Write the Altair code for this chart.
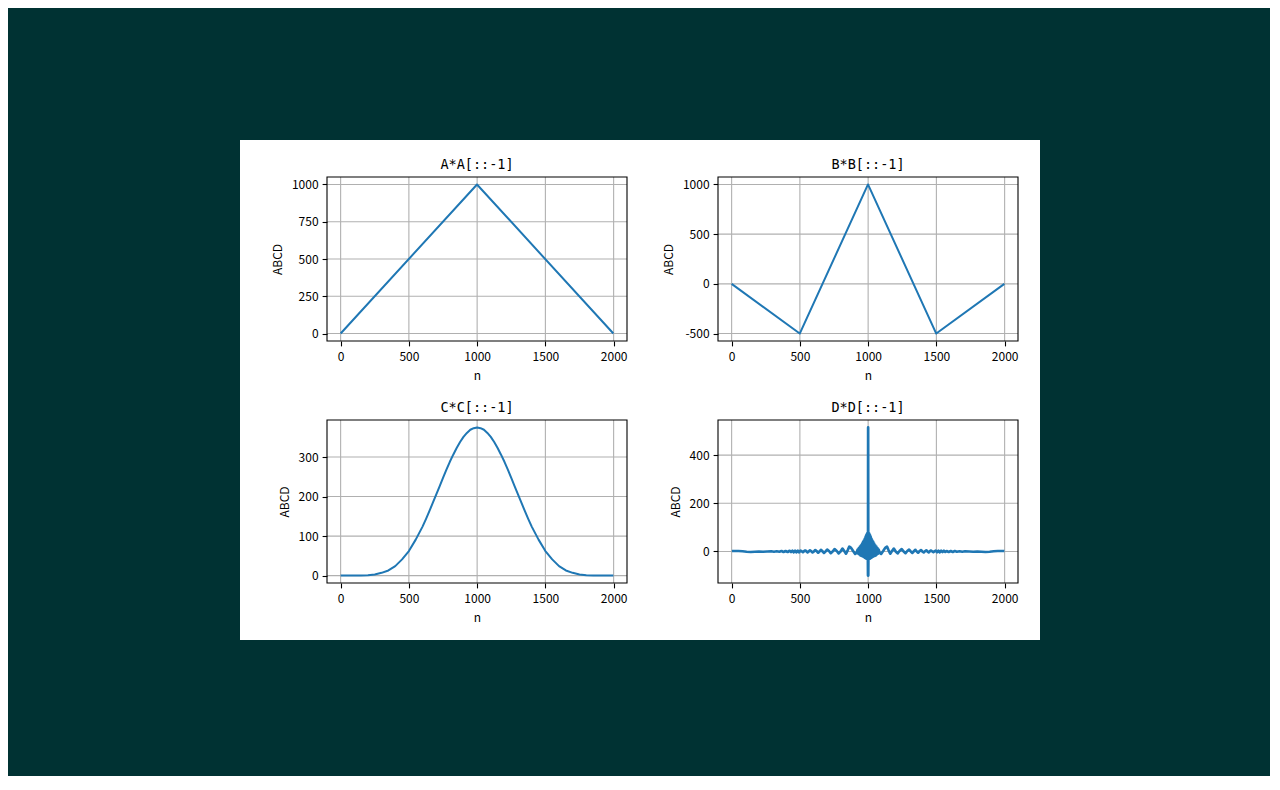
import altair as alt
import pandas as pd

# ---------------- data ----------------
A_n = [0, 999, 1998]
A_v = [0, 1000, 0]

B_n = [0, 499, 999, 1499, 1998]
B_v = [0, -500, 1000, -500, 0]

C_n = [0, 50, 100, 150, 200, 250, 300, 350, 400, 450, 500, 550, 600, 625, 650, 675, 700, 725, 750, 775,
       800, 825, 850, 875, 900, 925, 950, 975, 1000, 1025, 1050, 1075, 1100, 1125, 1150, 1175, 1200,
       1225, 1250, 1275, 1300, 1325, 1350, 1375, 1400, 1450, 1500, 1550, 1600, 1650, 1700, 1750, 1800,
       1850, 1900, 1950, 1998]
C_v = [0, 0, 0, 0.3, 1, 3, 7, 13, 24, 41, 62, 91, 124, 143, 163, 184, 205, 226, 247, 268,
       288, 306, 323, 338, 351, 361, 369, 373, 375, 373, 369, 361, 351, 338, 323, 306, 288,
       268, 247, 226, 205, 184, 163, 143, 124, 91, 62, 41, 24, 13, 7, 3, 1,
       0.3, 0, 0, 0]

D_n = [2, 20, 50, 80, 110, 140, 170, 200, 230, 260, 290, 310, 330, 350, 365, 380, 395, 410, 425, 435,
       445, 455, 465, 475, 485, 495, 505, 513, 522, 530, 539, 548, 556, 565, 574, 584, 593, 603, 613, 624,
       634, 644, 654, 665, 676, 688, 700, 713, 726, 740, 754, 770, 784, 798, 812, 825, 838, 850, 862, 875,
       890, 905, 915, 923, 928, 932, 936, 940, 944, 948, 952, 956, 960, 963, 966, 969, 972, 975, 978, 981,
       983, 985, 987, 989, 991, 993, 995, 997, 999, 1000,
       1001, 1003, 1005, 1007, 1009, 1011, 1013, 1015, 1017, 1019, 1022, 1025, 1028, 1031, 1034, 1037,
       1040, 1044, 1048, 1052, 1056, 1060, 1064, 1068, 1072, 1077, 1085, 1095, 1110, 1125, 1138, 1150,
       1162, 1175, 1188, 1202, 1216, 1230, 1246, 1260, 1274, 1287, 1300, 1312, 1324, 1335, 1346, 1356,
       1366, 1376, 1387, 1397, 1407, 1416, 1426, 1435, 1444, 1452, 1461, 1470, 1478, 1487, 1495, 1505,
       1515, 1525, 1535, 1545, 1555, 1565, 1575, 1590, 1605, 1620, 1635, 1650, 1670, 1690, 1710, 1740,
       1770, 1800, 1830, 1860, 1890, 1920, 1950, 1980, 1998]
D_v = [2, 2, 2, 1, -1, -2, -1, 0, -1, 0, 1, -1, 1, -1, 2, -2, 2, -2, 3, -2,
       3, -3, 3, -3, 3, -3, 4, 1, -3, 1, 4, 1, -4, 0, 5, 1, -4, 0, 6, 1,
       -5, 0, 7, 1, -6, 0, 8, 2, -7, 0, 10, 2, -8, 0, 12, 2, -9, 5, 20, 15,
       2, -10, -6, 8, -9, 14, -12, 20, -16, 26, -18, 33, -20, 40, -22, 45, -24, 52, -27, 60,
       -26, 66, -30, 70, -28, 75, -30, 72, -100, 515,
       -100, 72, -30, 75, -28, 70, -30, 66, -26, 60, -27, 52, -24, 45, -22, 40,
       -20, 33, -18, 26, -16, 20, -12, 14, -9, 8, -6, -10, 2, 15, 20, 5,
       -9, 2, 12, 0, -8, 2, 10, 0, -7, 2, 8, 0, -6, 1, 7, 0,
       -5, 1, 6, 0, -4, 1, 5, 0, -4, 1, 4, 0, -3, 1, 4, -3,
       3, -3, 3, -2, 3, -2, 2, -2, 2, -2, 2, -1, 1, -1, 1, 0,
       -1, 0, -1, -2, -1, 1, 2, 2, 2]

titles = ["A*A[::-1]", "B*B[::-1]", "C*C[::-1]", "D*D[::-1]"]
x_ticks = [0, 500, 1000, 1500, 2000]
y_ticks_list = [[0, 250, 500, 750, 1000], [-500, 0, 500, 1000], [0, 100, 200, 300], [0, 200, 400]]
x_domain = [-99.9, 2097.9]
y_domains = [[-50, 1050], [-575, 1075], [-18.75, 393.75], [-130.75, 545.75]]
x_label = "n"
y_label = "ABCD"

# ---------------- styling / layout ----------------
FONT = "Noto Sans CJK SC"
TFONT = "DejaVu Sans Mono"
LINE = "#1f77b4"
GRID = "#b0b0b0"
CELL_W, CELL_H = 400, 250
ranges = [([87, 387], [201, 37]), ([78, 378], [201, 37]), ([87, 387], [193, 30]), ([78, 378], [193, 30])]
widths = [2.0, 2.0, 2.0, 2.7]


def panel(i, ns, vs):
    xr, yr = ranges[i]
    ydom = y_domains[i]
    xs = alt.Scale(domain=x_domain, range=xr, nice=False, zero=False)
    ys = alt.Scale(domain=ydom, range=yr, nice=False, zero=False)
    xaxis = alt.Axis(values=x_ticks, offset=-(CELL_H - yr[0]), grid=False, domain=False,
                     title=x_label, labelFont=FONT, labelFontSize=12, labelColor="black",
                     labelPadding=6, labelFlush=False, labelOverlap=False, labelExpr="'' + datum.value",
                     tickColor="black", tickSize=4.9, tickWidth=1.1,
                     titleFont=FONT, titleFontSize=12, titleFontWeight="normal", titleColor="black",
                     titlePadding=8)
    yaxis = alt.Axis(values=y_ticks_list[i], offset=-xr[0], grid=False, domain=False,
                     title=y_label, labelFont=FONT, labelFontSize=12, labelColor="black",
                     labelPadding=4, labelFlush=False, labelOverlap=False, labelExpr="'' + datum.value",
                     tickColor="black", tickSize=4.9, tickWidth=1.1,
                     titleFont=FONT, titleFontSize=12, titleFontWeight="normal", titleColor="black",
                     titlePadding=7)

    line_df = pd.DataFrame({"n": ns, "v": vs})
    xg = pd.DataFrame({"n": x_ticks, "v": [ydom[0]] * len(x_ticks), "v2": [ydom[1]] * len(x_ticks)})
    yg = pd.DataFrame({"v": y_ticks_list[i], "n": [x_domain[0]] * len(y_ticks_list[i]),
                       "n2": [x_domain[1]] * len(y_ticks_list[i])})
    frame = pd.DataFrame({"n": [x_domain[0]], "n2": [x_domain[1]], "v": [ydom[0]], "v2": [ydom[1]]})
    ttl = pd.DataFrame({"n": [(x_domain[0] + x_domain[1]) / 2], "v": [ydom[1]], "t": [titles[i]]})

    base_line = alt.Chart(line_df).mark_line(color=LINE, strokeWidth=widths[i], strokeJoin="round").encode(
        x=alt.X("n:Q", scale=xs, axis=xaxis),
        y=alt.Y("v:Q", scale=ys, axis=yaxis),
        order="n:Q",
    )
    gx = alt.Chart(xg).mark_rule(color=GRID, strokeWidth=1.1).encode(
        x=alt.X("n:Q"), y=alt.Y("v:Q"), y2="v2:Q")
    gy = alt.Chart(yg).mark_rule(color=GRID, strokeWidth=1.1).encode(
        y=alt.Y("v:Q"), x=alt.X("n:Q"), x2="n2:Q")
    fr = alt.Chart(frame).mark_rect(fill="transparent", stroke="black", strokeWidth=1.1).encode(
        x=alt.X("n:Q"), x2="n2:Q", y=alt.Y("v:Q"), y2="v2:Q")
    tt = alt.Chart(ttl).mark_text(font=TFONT, fontSize=13.5, color="black", align="center",
                                  baseline="alphabetic", dy=-8).encode(
        x=alt.X("n:Q"), y=alt.Y("v:Q"), text="t:N")
    return alt.layer(gx, gy, base_line, fr, tt).properties(width=CELL_W, height=CELL_H)


p1 = panel(0, A_n, A_v)
p2 = panel(1, B_n, B_v)
p3 = panel(2, C_n, C_v)
p4 = panel(3, D_n, D_v)

chart = alt.vconcat(
    alt.hconcat(p1, p2, spacing=0),
    alt.hconcat(p3, p4, spacing=0),
    spacing=0,
).properties(
    background="#003233",
    padding={"left": 232, "top": 132, "right": 230, "bottom": 136},
).configure_view(fill="white", stroke="white", strokeWidth=0)

chart.save("out.html", embed_options={"renderer": "svg", "actions": False})
